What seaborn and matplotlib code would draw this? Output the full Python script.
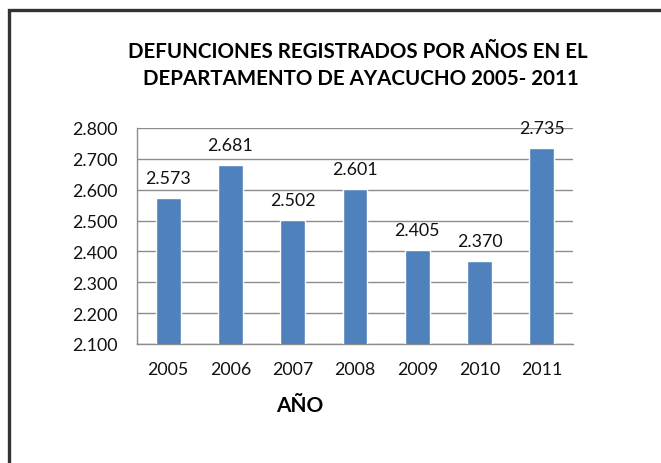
import matplotlib
matplotlib.use('Agg')
import matplotlib.pyplot as plt
from matplotlib.patches import Rectangle
import seaborn as sns
import pandas as pd

# data
years = ['2005', '2006', '2007', '2008', '2009', '2010', '2011']
deaths = [2573, 2681, 2502, 2601, 2405, 2370, 2735]
yticks = [2100, 2200, 2300, 2400, 2500, 2600, 2700, 2800]

title_line1 = 'DEFUNCIONES REGISTRADOS POR AÑOS EN EL'
title_line2 = 'DEPARTAMENTO DE AYACUCHO 2005- 2011'
xlabel = 'AÑO'

def dot_thousands(v):
    return f'{v:,.0f}'.replace(',', '.')

df = pd.DataFrame({'year': years, 'deaths': deaths})

sns.set_style('white')
plt.rcParams['font.family'] = ['Lato', 'DejaVu Sans']

W, H = 661, 464
fig = plt.figure(figsize=(W / 100, H / 100), dpi=100)
ax = fig.add_axes([137 / W, 1 - 345 / H, 436 / W, 216 / H])

sns.barplot(data=df, x='year', y='deaths', color='#4F81BD', width=0.4,
            saturation=1, ax=ax, zorder=3)

ax.set_ylim(2100, 2800)
ax.set_yticks(yticks)
ax.set_yticklabels([dot_thousands(v) for v in yticks], fontsize=12.8, color='#111111')
ax.set_xlim(-0.5, len(years) - 0.5)
ax.tick_params(axis='y', length=0, pad=14)
ax.tick_params(axis='x', length=0, pad=12, labelsize=12.8, labelcolor='#111111')
ax.set_xlabel('')
ax.set_ylabel('')

ax.grid(axis='y', color='#8c8c8c', linewidth=1, zorder=0)
for s in ['top', 'right']:
    ax.spines[s].set_visible(False)
for s in ['left', 'bottom']:
    ax.spines[s].set_color('#8c8c8c')
    ax.spines[s].set_linewidth(1)

for i, v in enumerate(deaths):
    ax.annotate(dot_thousands(v), (i, v), xytext=(0, 14.5), textcoords='offset points',
                ha='center', va='center', fontsize=12.8, color='#111111', zorder=4)

fig.text(358 / W, 1 - 52 / H, title_line1, ha='center', va='center',
         fontsize=14.8, fontweight='bold', color='#000000')
fig.text(361 / W, 1 - 79 / H, title_line2, ha='center', va='center',
         fontsize=14.8, fontweight='bold', color='#000000')
fig.text(300 / W, 1 - 406 / H, xlabel, ha='center', va='center',
         fontsize=15, fontweight='bold', color='#000000')

# outer chart frame (cropped on right and bottom)
fig.patches.append(Rectangle((8.5 / W, -0.1), 1.2, 1 - 11 / H + 0.1,
                             transform=fig.transFigure, fill=False,
                             edgecolor='#333333', linewidth=2.4))

fig.savefig('out.png', dpi=100)
